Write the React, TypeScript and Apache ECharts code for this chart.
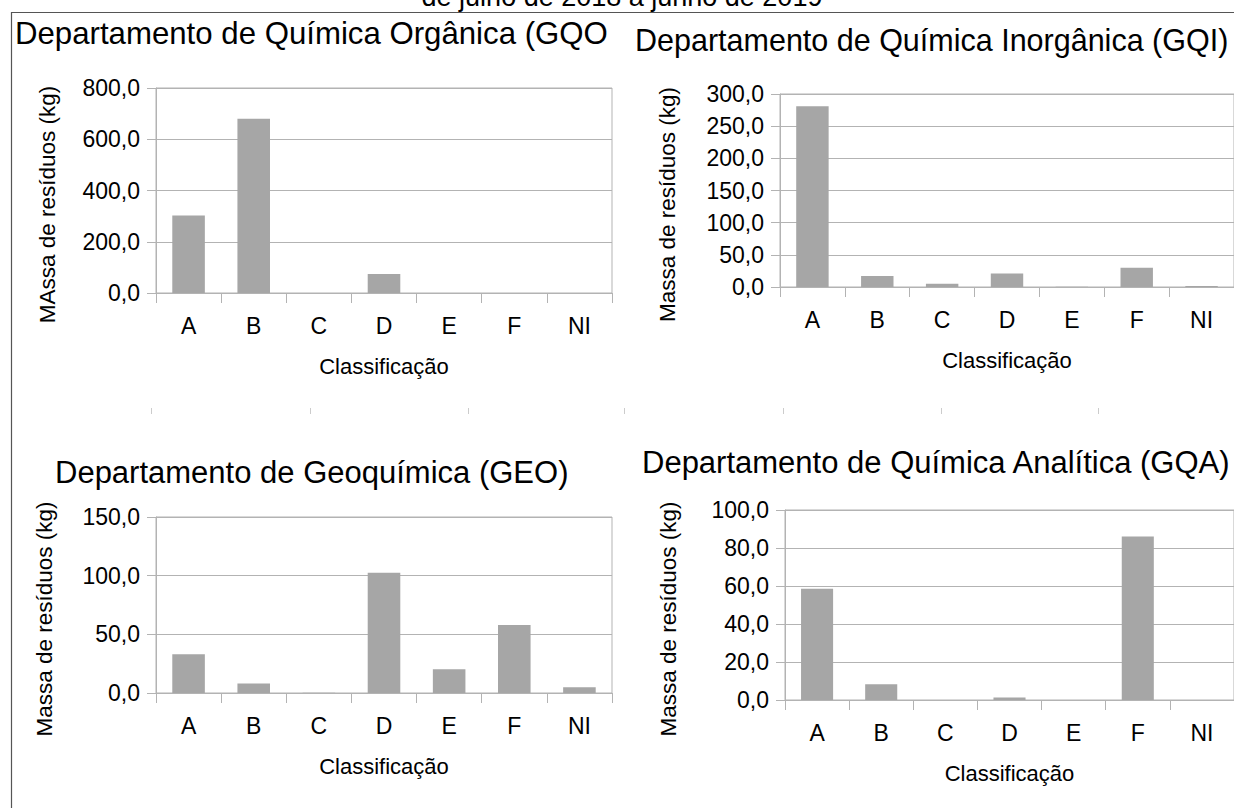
import React, { useEffect, useRef } from 'react';
import * as echarts from 'echarts';

const categories = ['A', 'B', 'C', 'D', 'E', 'F', 'NI'];
const gqoValues = [302, 680, 0, 74, 0, 0, 0];
const gqiValues = [281, 17, 5, 21, 0.5, 30, 1.5];
const geoValues = [33, 8, 0.2, 102.5, 20.3, 58, 5];
const gqaValues = [58.5, 8.3, 0, 1.3, 0, 86, 0];

const chartTitles = [
  'Departamento de Química Orgânica (GQO',
  'Departamento de Química Inorgânica (GQI)',
  'Departamento de Geoquímica (GEO)',
  'Departamento de Química Analítica (GQA)',
];
const yAxisNames = [
  'MAssa de resíduos (kg)',
  'Massa de resíduos (kg)',
  'Massa de resíduos (kg)',
  'Massa de resíduos (kg)',
];
const xAxisName = 'Classificação';
const yMaxValues = [800, 300, 150, 100];
const yIntervals = [200, 50, 50, 20];
const subtitle = 'de julho de 2018 a junho de 2019';

const FONT = 'Liberation Sans';
const GRID_COLOR = '#b3b3b3';
const BAR_COLOR = '#a6a6a6';

const grids = [
  { left: 156, top: 88, width: 456, height: 205 },
  { left: 780, top: 94, width: 457, height: 193 },
  { left: 156, top: 517, width: 456, height: 176 },
  { left: 785, top: 510, width: 457, height: 190 },
];
const titlePos = [
  { left: 15, top: 18, size: 31.2 },
  { left: 635, top: 24, size: 30.5 },
  { left: 55, top: 457, size: 31 },
  { left: 642, top: 447, size: 31 },
];
const yNameGaps = [97, 101, 100, 105];

const fmt = (v: number) => v.toFixed(1).replace('.', ',');

export default function App() {
  const ref = useRef<HTMLDivElement>(null);
  useEffect(() => {
    if (!ref.current) return;
    const chart = echarts.init(ref.current, null, { renderer: 'svg' });
    const seriesData = [gqoValues, gqiValues, geoValues, gqaValues];
    const option: any = {
      animation: false,
      backgroundColor: '#ffffff',
      title: chartTitles.map((t, i) => ({
        text: t,
        left: titlePos[i].left,
        top: titlePos[i].top,
        padding: 0,
        textStyle: { fontFamily: FONT, fontSize: titlePos[i].size, fontWeight: 'normal', color: '#000' },
      })),
      grid: grids.map((g) => ({
        ...g,
        show: true,
        borderColor: GRID_COLOR,
        borderWidth: 1,
        containLabel: false,
      })),
      xAxis: grids.map((_, i) => ({
        type: 'category',
        gridIndex: i,
        data: categories,
        name: xAxisName,
        nameLocation: 'middle',
        nameGap: 62,
        nameTextStyle: { fontFamily: FONT, fontSize: 22, color: '#000' },
        axisLine: { show: true, lineStyle: { color: GRID_COLOR, width: 1 } },
        axisTick: { show: true, length: 10, lineStyle: { color: GRID_COLOR } },
        axisLabel: { fontFamily: FONT, fontSize: 23, color: '#000', margin: 21 },
        splitLine: { show: false },
      })),
      yAxis: grids.map((_, i) => ({
        type: 'value',
        gridIndex: i,
        min: 0,
        max: yMaxValues[i],
        interval: yIntervals[i],
        name: yAxisNames[i],
        nameLocation: 'middle',
        nameGap: yNameGaps[i],
        nameTextStyle: { fontFamily: FONT, fontSize: 22.5, color: '#000', padding: [0, 28, 0, 0] },
        axisLine: { show: true, lineStyle: { color: GRID_COLOR, width: 1 } },
        axisTick: { show: true, length: 9, lineStyle: { color: GRID_COLOR } },
        axisLabel: { fontFamily: FONT, fontSize: 23, color: '#000', margin: 16, formatter: fmt },
        splitLine: { show: true, lineStyle: { color: GRID_COLOR, width: 1 } },
      })),
      series: seriesData.map((d, i) => ({
        type: 'bar',
        xAxisIndex: i,
        yAxisIndex: i,
        data: d,
        barWidth: '50%',
        itemStyle: { color: BAR_COLOR },
      })),
      graphic: [
        {
          type: 'text',
          style: {
            text: subtitle,
            x: 622,
            y: 10,
            align: 'center',
            verticalAlign: 'bottom',
            fontFamily: FONT,
            fontSize: 27,
            fill: '#000',
          },
        },
        { type: 'line', shape: { x1: 11, y1: 12.5, x2: 1234, y2: 12.5 }, style: { stroke: '#555', lineWidth: 1.2 } },
        { type: 'line', shape: { x1: 11.5, y1: 12, x2: 11.5, y2: 808 }, style: { stroke: '#555', lineWidth: 1.2 } },
        ...[151, 310, 468, 624, 783, 941, 1098].map((x) => ({
          type: 'line',
          shape: { x1: x + 0.5, y1: 408, x2: x + 0.5, y2: 414 },
          style: { stroke: '#cccccc', lineWidth: 1 },
        })),
      ],
    };
    chart.setOption(option);
    return () => chart.dispose();
  }, []);
  return (
    <div
      ref={ref}
      style={{ position: 'fixed', left: 0, top: 0, width: 1234, height: 808, background: '#fff' }}
    />
  );
}
